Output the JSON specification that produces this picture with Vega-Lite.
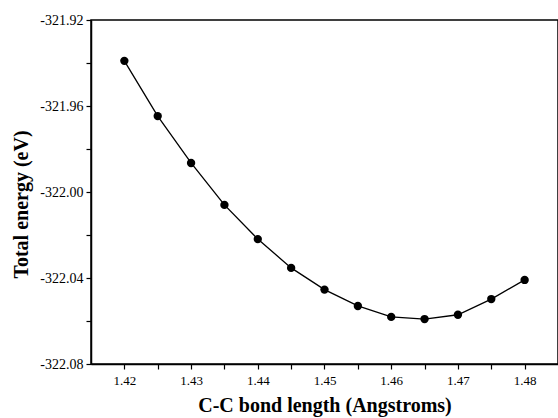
{
  "$schema": "https://vega.github.io/schema/vega-lite/v6.json",
  "width": 467,
  "height": 344,
  "autosize": "none",
  "padding": {"left": 91, "top": 20, "right": 0, "bottom": 54},
  "background": "white",
  "config": {
    "view": {"stroke": "black", "strokeWidth": 1.5},
    "font": "Liberation Serif",
    "axis": {
      "grid": false,
      "domainColor": "black",
      "domainWidth": 1.5,
      "tickColor": "black",
      "tickWidth": 1.2,
      "tickSize": 5,
      "labelColor": "black",
      "labelFont": "Liberation Serif",
      "labelFontSize": 13,
      "labelOverlap": false,
      "titleFont": "Liberation Serif",
      "titleColor": "black",
      "titleFontWeight": "bold",
      "titleFontSize": 20
    }
  },
  "data": {
    "values": [
      {"x": 1.42, "y": -321.939},
      {"x": 1.425, "y": -321.9647},
      {"x": 1.43, "y": -321.9865},
      {"x": 1.435, "y": -322.006},
      {"x": 1.44, "y": -322.0219},
      {"x": 1.445, "y": -322.0353},
      {"x": 1.45, "y": -322.0454},
      {"x": 1.455, "y": -322.053},
      {"x": 1.46, "y": -322.0581},
      {"x": 1.465, "y": -322.0591},
      {"x": 1.47, "y": -322.0571},
      {"x": 1.475, "y": -322.0498},
      {"x": 1.48, "y": -322.0409}
    ]
  },
  "encoding": {
    "x": {
      "field": "x",
      "type": "quantitative",
      "scale": {"domain": [1.415, 1.485], "nice": false, "zero": false},
      "axis": {
        "title": "C-C bond length (Angstroms)",
        "values": [1.42, 1.425, 1.43, 1.435, 1.44, 1.445, 1.45, 1.455, 1.46, 1.465, 1.47, 1.475, 1.48],
        "labelExpr": "abs(datum.value*100 - round(datum.value*100)) < 0.01 ? format(datum.value, '.2f') : ''",
        "labelFontSize": 13,
        "labelPadding": 5,
        "titlePadding": 8
      }
    },
    "y": {
      "field": "y",
      "type": "quantitative",
      "scale": {"domain": [-322.08, -321.92], "nice": false, "zero": false},
      "axis": {
        "title": "Total energy (eV)",
        "values": [-321.92, -321.94, -321.96, -321.98, -322.0, -322.02, -322.04, -322.06, -322.08],
        "labelExpr": "abs(datum.value*25 - round(datum.value*25)) < 0.01 ? '-' + format(abs(datum.value), '.2f') : ''",
        "labelFontSize": 14,
        "labelPadding": 3,
        "titlePadding": 8,
        "titleY": 184
      }
    }
  },
  "layer": [
    {"mark": {"type": "line", "color": "black", "strokeWidth": 1.3}},
    {"mark": {"type": "point", "filled": true, "color": "black", "opacity": 1, "size": 70}}
  ]
}
